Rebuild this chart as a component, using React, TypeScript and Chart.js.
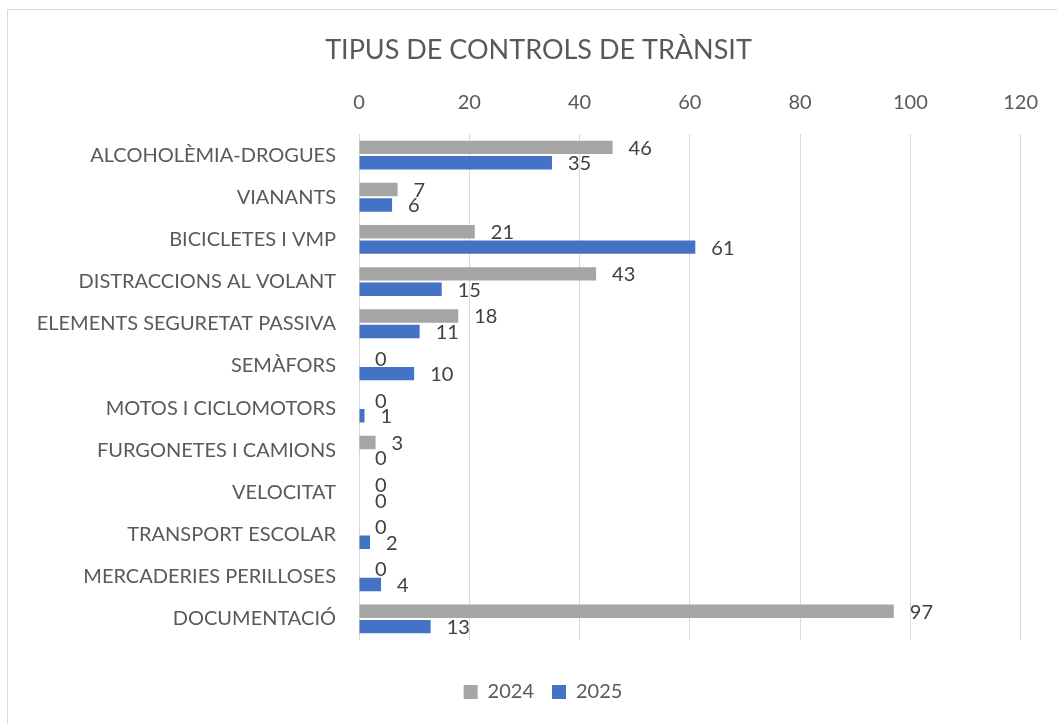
import React, { useEffect, useRef } from "react";
import { Chart, registerables } from "chart.js";

Chart.register(...registerables);

const categories = [
  "ALCOHOLÈMIA-DROGUES",
  "VIANANTS",
  "BICICLETES I VMP",
  "DISTRACCIONS AL VOLANT",
  "ELEMENTS SEGURETAT PASSIVA",
  "SEMÀFORS",
  "MOTOS I CICLOMOTORS",
  "FURGONETES I CAMIONS",
  "VELOCITAT",
  "TRANSPORT ESCOLAR",
  "MERCADERIES PERILLOSES",
  "DOCUMENTACIÓ",
];
const values2024 = [46, 7, 21, 43, 18, 0, 0, 3, 0, 0, 0, 97];
const values2025 = [35, 6, 61, 15, 11, 10, 1, 0, 0, 2, 4, 13];
const seriesNames = ["2024", "2025"];
const xTickMax = 120;
const xTickStep = 20;

const FONT = "Lato";
const TEXT = "#595959";

const frame = {
  id: "frame",
  beforeDraw(chart: any) {
    const { ctx, width, height } = chart;
    ctx.save();
    ctx.fillStyle = "#ffffff";
    ctx.fillRect(0, 0, width, height);
    ctx.strokeStyle = "#d9d9d9";
    ctx.lineWidth = 1;
    ctx.beginPath();
    ctx.moveTo(7.5, height + 2);
    ctx.lineTo(7.5, 9.5);
    ctx.lineTo(width + 2, 9.5);
    ctx.stroke();
    ctx.restore();
  },
};

// Re-centre the title and legend blocks horizontally (as in the original layout)
const recentre = {
  id: "recentre",
  afterLayout(chart: any) {
    const move = (box: any, centre: number) => {
      if (!box) return;
      const w = box.right - box.left;
      box.left = centre - w / 2;
      box.right = centre + w / 2;
    };
    move(chart.titleBlock, 538.5);
    move(chart.legend, 543);
  },
};

const valueLabels = {
  id: "valueLabels",
  afterDatasetsDraw(chart: any) {
    const { ctx } = chart;
    ctx.save();
    ctx.font = `20px ${FONT}`;
    ctx.fillStyle = "#404040";
    ctx.textAlign = "left";
    ctx.textBaseline = "middle";
    chart.data.datasets.forEach((ds: any, i: number) => {
      const meta = chart.getDatasetMeta(i);
      meta.data.forEach((el: any, j: number) => {
        ctx.fillText(String(ds.data[j]), el.x + 16, el.y + 1);
      });
    });
    ctx.restore();
  },
};

export default function App() {
  const ref = useRef<HTMLCanvasElement>(null);
  useEffect(() => {
    document.body.style.margin = "0";
    document.body.style.overflow = "hidden";
    const chart = new Chart(ref.current!, {
      type: "bar",
      data: {
        labels: categories,
        datasets: [
          {
            label: seriesNames[0],
            data: values2024,
            backgroundColor: "#A5A5A5",
            categoryPercentage: 0.733,
            barPercentage: 0.87,
          },
          {
            label: seriesNames[1],
            data: values2025,
            backgroundColor: "#4472C4",
            categoryPercentage: 0.733,
            barPercentage: 0.87,
          },
        ],
      },
      options: {
        indexAxis: "y",
        animation: false,
        responsive: false,
        layout: { padding: { left: 8, right: 34, top: 0, bottom: 12 } },
        scales: {
          x: {
            position: "top",
            min: 0,
            max: xTickMax,
            ticks: {
              stepSize: xTickStep,
              color: TEXT,
              font: { family: FONT, size: 20 },
              padding: 19,
              maxRotation: 0,
            },
            grid: { color: "#d9d9d9", drawTicks: false, lineWidth: 1 },
            border: { display: false },
          },
          y: {
            ticks: {
              color: TEXT,
              font: { family: FONT, size: 20 },
              padding: 23,
              autoSkip: false,
            },
            grid: { display: false, drawTicks: false },
            border: { display: false },
            afterFit(scale: any) {
              scale.width = 351;
            },
          },
        },
        plugins: {
          title: {
            display: true,
            text: "TIPUS DE CONTROLS DE TRÀNSIT",
            color: TEXT,
            font: { family: FONT, size: 27, weight: "normal" },
            padding: { top: 33.8, bottom: 5.8 },
          },
          legend: {
            position: "bottom",
            title: {
              display: true,
              text: " ",
              font: { size: 10 },
              padding: { top: 12, bottom: 0 },
            },
            labels: {
              color: TEXT,
              font: { family: FONT, size: 20 },
              boxWidth: 14,
              boxHeight: 14,
              padding: 18,
            },
          },
          tooltip: { enabled: false },
        },
      },
      plugins: [frame, recentre, valueLabels],
    });
    return () => chart.destroy();
  }, []);
  return (
    <div style={{ width: 1057, height: 724 }}>
      <canvas ref={ref} width={1057} height={724} style={{ display: "block" }} />
    </div>
  );
}
